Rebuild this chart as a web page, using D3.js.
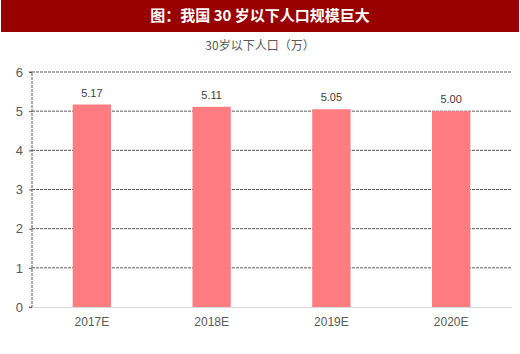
<!DOCTYPE html>
<html>
<head>
<meta charset="utf-8">
<script src="https://cdn.jsdelivr.net/npm/d3@7"></script>
<style>
  body { margin: 0; background: #fff; }
  svg { display: block; font-family: "Liberation Sans", Arial, "Noto Sans CJK SC", sans-serif; }
</style>
</head>
<body>
<div id="chart"></div>
<script>
// data
const years = ["2017E", "2018E", "2019E", "2020E"];
const population = [5.17, 5.11, 5.05, 5.00];
const yTicks = [0, 1, 2, 3, 4, 5, 6];
const title = "图：我国 30 岁以下人口规模巨大";
const subtitle = "30岁以下人口（万）";

const width = 520;
const height = 354;
const margin = { top: 72, right: 9, bottom: 47, left: 32 };

const svg = d3.select("#chart")
  .append("svg")
  .attr("width", width)
  .attr("height", height);

const x = d3.scaleBand()
  .domain(years)
  .range([margin.left, width - margin.right])
  .paddingInner(0.68)
  .paddingOuter(0.34);

const y = d3.scaleLinear()
  .domain([0, 6])
  .range([height - margin.bottom, margin.top]);

// title bar
svg.append("rect")
  .attr("x", 1).attr("y", 0)
  .attr("width", width - 2).attr("height", 32)
  .attr("fill", "#990000");
svg.append("text")
  .attr("x", width / 2).attr("y", 21)
  .attr("text-anchor", "middle")
  .attr("fill", "#fff")
  .attr("font-size", 15)
  .attr("font-weight", "bold")
  .attr("font-family", "'Noto Sans CJK SC', sans-serif")
  .text(title);

svg.append("text")
  .attr("x", width / 2).attr("y", 50)
  .attr("text-anchor", "middle")
  .attr("fill", "#595959")
  .attr("font-size", 12)
  .attr("font-family", "'Noto Sans CJK SC', sans-serif")
  .text(subtitle);

// grid lines
svg.append("g")
  .selectAll("line")
  .data(yTicks.filter(d => d > 0))
  .join("line")
    .attr("x1", margin.left).attr("x2", width - margin.right)
    .attr("y1", d => y(d)).attr("y2", d => y(d))
    .attr("stroke", "#595959")
    .attr("stroke-dasharray", "3,1");

// y axis
const yAxis = svg.append("g")
  .attr("transform", `translate(${margin.left},0)`)
  .call(d3.axisLeft(y).tickValues(yTicks).tickFormat(d3.format("d")).tickSize(3).tickPadding(6));
yAxis.select(".domain")
  .attr("d", `M-3,${y(6)}H0V${y(0)}H-3`)
  .attr("stroke", "#595959")
  .attr("stroke-dasharray", "3,1");
yAxis.selectAll(".tick line").attr("stroke", "#595959");
yAxis.selectAll(".tick text")
  .attr("fill", "#595959")
  .attr("font-size", 13);

// bars
svg.append("g")
  .selectAll("rect")
  .data(years)
  .join("rect")
    .attr("x", d => x(d))
    .attr("y", (d, i) => y(population[i]))
    .attr("width", x.bandwidth())
    .attr("height", (d, i) => y(0) - y(population[i]))
    .attr("fill", "#FF7C80");

// value labels
svg.append("g")
  .selectAll("text")
  .data(years)
  .join("text")
    .attr("x", d => x(d) + x.bandwidth() / 2)
    .attr("y", (d, i) => y(population[i]) - 8)
    .attr("text-anchor", "middle")
    .attr("fill", "#404040")
    .attr("font-size", 11)
    .text((d, i) => population[i].toFixed(2));

// x axis
const xAxis = svg.append("g")
  .attr("transform", `translate(0,${y(0)})`)
  .call(d3.axisBottom(x).tickSize(0).tickPadding(10));
xAxis.select(".domain").attr("stroke", "#d9d9d9");
xAxis.selectAll(".tick text")
  .attr("fill", "#595959")
  .attr("font-size", 12);
</script>
</body>
</html>
